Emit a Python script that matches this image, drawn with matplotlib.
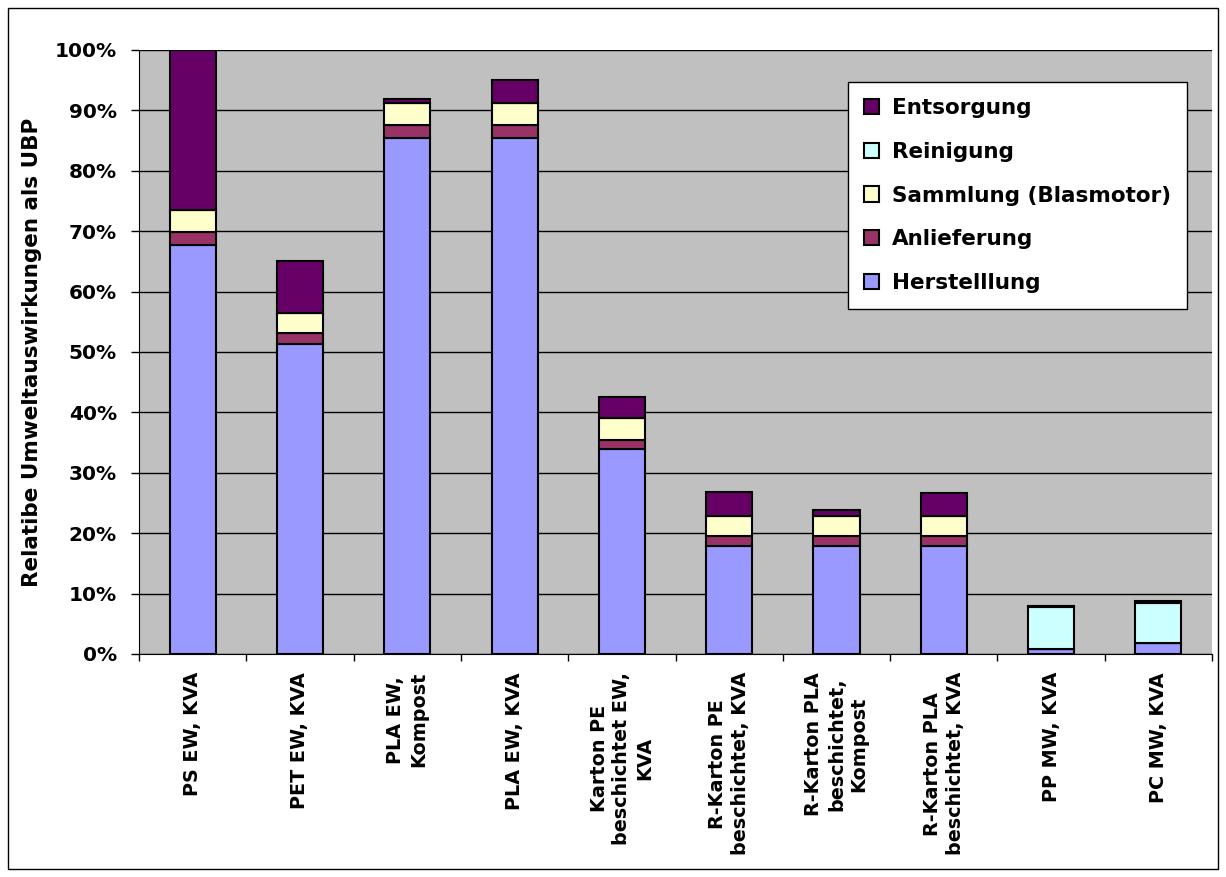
import numpy as np
import matplotlib.pyplot as plt
from matplotlib.patches import Rectangle
from matplotlib.ticker import FuncFormatter

# Varianten (Beschriftung der x-Achse)
varianten = ["PS EW, KVA", "PET EW, KVA", "PLA EW,\nKompost", "PLA EW, KVA",
             "Karton PE\nbeschichtet EW,\nKVA", "R-Karton PE\nbeschichtet, KVA",
             "R-Karton PLA\nbeschichtet,\nKompost", "R-Karton PLA\nbeschichtet, KVA",
             "PP MW, KVA", "PC MW, KVA"]

# Anteile in % (relativ zu PS EW, KVA = 100 %)
herstellung = [67.7, 51.3, 85.4, 85.4, 33.9, 17.8, 17.8, 17.8, 0.9, 1.8]
anlieferung = [2.2, 1.8, 2.2, 2.2, 1.5, 1.8, 1.8, 1.8, 0.0, 0.0]
sammlung = [3.6, 3.4, 3.6, 3.6, 3.6, 3.3, 3.3, 3.3, 0.0, 0.0]
reinigung = [0.0, 0.0, 0.0, 0.0, 0.0, 0.0, 0.0, 0.0, 6.8, 6.7]
entsorgung = [26.5, 8.5, 0.7, 3.8, 3.5, 4.0, 0.9, 3.7, 0.2, 0.3]

serien = [("Herstelllung", herstellung, "#9999FF"),
          ("Anlieferung", anlieferung, "#993366"),
          ("Sammlung (Blasmotor)", sammlung, "#FFFFCC"),
          ("Reinigung", reinigung, "#CCFFFF"),
          ("Entsorgung", entsorgung, "#660066")]

plt.rcParams['font.family'] = 'DejaVu Sans'
plt.rcParams['font.weight'] = 'bold'

fig = plt.figure(figsize=(12.26, 8.77), dpi=100)
ax = fig.add_axes([0.1134, 0.2543, 0.8752, 0.6887])
ax.set_facecolor("#C0C0C0")

x = np.arange(len(varianten))
unten = np.zeros(len(varianten))
handles = []
for name, werte, farbe in serien:
    werte = np.array(werte)
    b = ax.bar(x, werte, width=0.43, bottom=unten, color=farbe,
               edgecolor="black", linewidth=1.5, label=name, zorder=3)
    handles.append(b)
    unten = unten + werte

ax.set_xlim(-0.5, len(varianten) - 0.5)
ax.set_ylim(0, 100)
ax.set_yticks(np.arange(0, 101, 10))
ax.yaxis.set_major_formatter(FuncFormatter(lambda v, p: "%d%%" % v))
ax.grid(axis="y", color="black", linewidth=1, zorder=1)
ax.tick_params(axis="y", labelsize=14.5, length=6, width=1, pad=10)

# Striche zwischen den Kategorien, Beschriftung separat
ax.set_xticks(np.arange(-0.5, len(varianten) + 0.5, 1))
ax.set_xticklabels([])
ax.tick_params(axis="x", length=5, width=1)
for xi, txt in zip(x, varianten):
    ax.text(xi, -3.0, txt, rotation=90, ha="center", va="top",
            multialignment="center", fontsize=13.8, fontweight="bold",
            linespacing=1.25)

for s in ["top", "right"]:
    ax.spines[s].set_visible(False)
ax.spines["left"].set_color("black")
ax.spines["bottom"].set_color("black")

ax.set_ylabel("Relatibe Umweltauswirkungen als UBP", fontsize=15.5,
              fontweight="bold")
ax.yaxis.set_label_coords(-0.09, 0.5)

leg = ax.legend(handles[::-1], [s[0] for s in serien][::-1],
                loc="upper right", bbox_to_anchor=(0.977, 0.947),
                fontsize=15.5, frameon=True, fancybox=False,
                edgecolor="black", handlelength=0.7, handleheight=0.7,
                handletextpad=0.6, labelspacing=1.1, borderpad=0.75,
                borderaxespad=0)
leg.get_frame().set_linewidth(1)
leg.get_frame().set_facecolor("white")
leg.get_frame().set_alpha(1)

fig.patches.append(Rectangle((8 / 1226, 8 / 877), 1210 / 1226, 861 / 877,
                             transform=fig.transFigure, fill=False,
                             edgecolor="black", linewidth=1))

fig.savefig("out.png", dpi=100, facecolor="white")
